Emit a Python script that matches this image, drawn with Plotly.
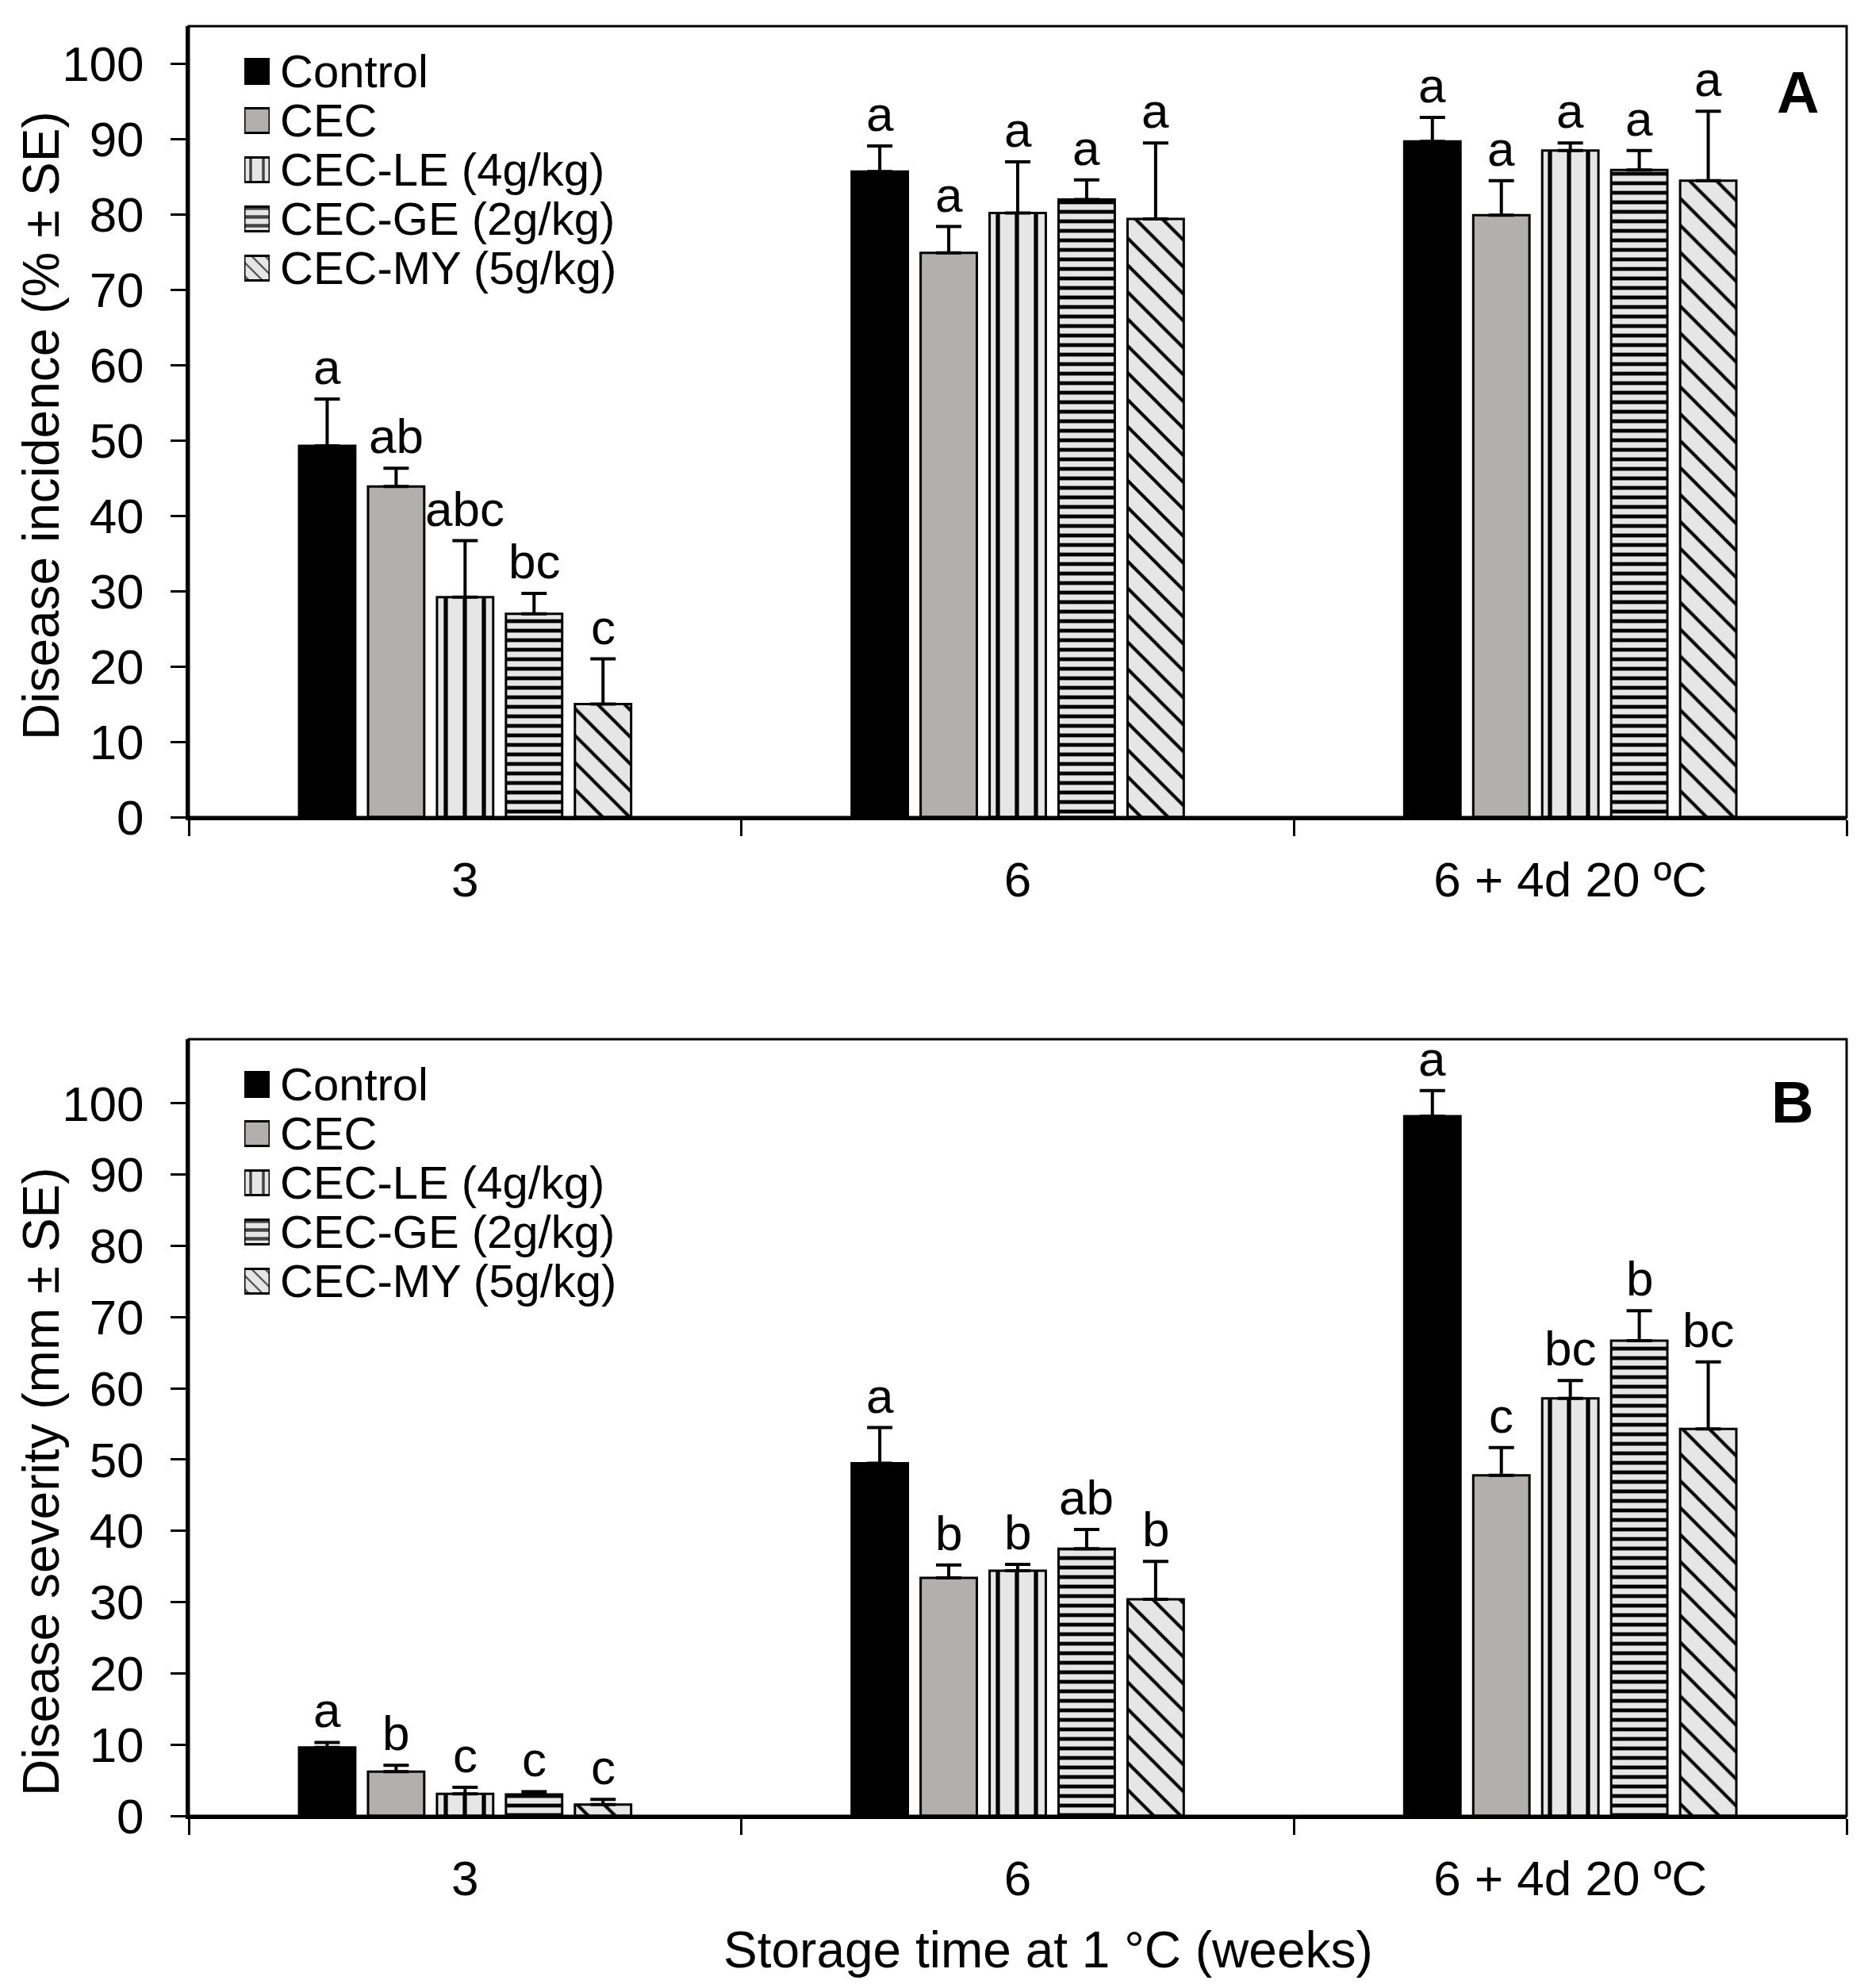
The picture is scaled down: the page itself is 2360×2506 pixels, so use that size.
import plotly.graph_objects as go

# ---- data ----
categories = ["3", "6", "6 + 4d 20 ºC"]
series = ["Control", "CEC", "CEC-LE (4g/kg)", "CEC-GE (2g/kg)", "CEC-MY (5g/kg)"]

# A: disease incidence (%) and SE
inc_control = [49.3, 85.7, 89.7]
inc_cec = [43.9, 74.9, 79.9]
inc_le = [29.2, 80.2, 88.5]
inc_ge = [27.0, 82.0, 85.9]
inc_my = [15.0, 79.4, 84.5]
inc_se_control = [6.2, 3.4, 3.2]
inc_se_cec = [2.4, 3.5, 4.6]
inc_se_le = [7.5, 6.8, 1.0]
inc_se_ge = [2.7, 2.6, 2.6]
inc_se_my = [6.0, 10.1, 9.2]

# B: disease severity (mm) and SE
sev_control = [9.6, 49.5, 98.2]
sev_cec = [6.2, 33.4, 47.8]
sev_le = [3.1, 34.4, 58.6]
sev_ge = [3.0, 37.5, 66.7]
sev_my = [1.6, 30.4, 54.3]
sev_se_control = [0.7, 5.0, 3.6]
sev_se_cec = [0.9, 1.8, 3.9]
sev_se_le = [0.9, 0.9, 2.5]
sev_se_ge = [0.4, 2.7, 4.2]
sev_se_my = [0.7, 5.3, 9.4]

# significance letters (per series, per category)
inc_letters = [
    ["a", "a", "a"],
    ["ab", "a", "a"],
    ["abc", "a", "a"],
    ["bc", "a", "a"],
    ["c", "a", "a"],
]
sev_letters = [
    ["a", "a", "a"],
    ["b", "b", "c"],
    ["c", "b", "bc"],
    ["c", "ab", "b"],
    ["c", "b", "bc"],
]

inc_values = [inc_control, inc_cec, inc_le, inc_ge, inc_my]
inc_errors = [inc_se_control, inc_se_cec, inc_se_le, inc_se_ge, inc_se_my]
sev_values = [sev_control, sev_cec, sev_le, sev_ge, sev_my]
sev_errors = [sev_se_control, sev_se_cec, sev_se_le, sev_se_ge, sev_se_my]

# ---- styles ----
FONT = "Liberation Sans, Arial, sans-serif"
fills = ["#000000", "#B3AFAE", "#E6E6E6", "#E6E6E6", "#E6E6E6"]
shapes_pat = ["", "", "|", "-", "\\"]
pat_size = [10, 10, 24, 12, 24]
pat_solid = [0.3, 0.3, 0.22, 0.4, 0.17]
BARGAP = 0.376

W, H = 2360, 2506
L, R, T, B = 238, 32, 33, 217
PW, PH = W - L - R, H - T - B


def px_x(px):
    return (px - L) / PW


def px_y(py):
    return (H - B - py) / PH


fig = go.Figure()


def add_panel(values, errors, xa, ya):
    for i, name in enumerate(series):
        fig.add_trace(go.Bar(
            x=categories, y=values[i], name=name,
            xaxis=xa, yaxis=ya, showlegend=False,
            marker=dict(
                color=fills[i],
                line=dict(color="black", width=3),
                pattern=dict(shape=shapes_pat[i], fgcolor="black",
                             fgopacity=1, size=pat_size[i],
                             solidity=pat_solid[i], fillmode="overlay"),
            ),
            error_y=dict(type="data", array=errors[i],
                         arrayminus=[0] * len(categories), symmetric=False,
                         color="black", thickness=4, width=16),
        ))


add_panel(inc_values, inc_errors, "x", "y")
add_panel(sev_values, sev_errors, "x2", "y2")

# legend swatches drawn as small bars on their own axes
for xa, ya in [("x3", "y3"), ("x4", "y4")]:
    fig.add_trace(go.Bar(
        y=series, x=[1] * len(series), orientation="h", width=0.5,
        xaxis=xa, yaxis=ya, showlegend=False, hoverinfo="skip",
        marker=dict(
            color=fills,
            line=dict(color="black", width=3),
            pattern=dict(shape=shapes_pat, fgcolor="black", fgopacity=1,
                         size=[10, 10, 16, 11, 12], solidity=pat_solid,
                         fillmode="overlay"),
        ),
    ))

# letters above error bars
slot = (1 - BARGAP) / len(series)
annotations = []
for values, errors, letters, xr, yr in [
    (inc_values, inc_errors, inc_letters, "x", "y"),
    (sev_values, sev_errors, sev_letters, "x2", "y2"),
]:
    for i in range(len(series)):
        for j in range(len(categories)):
            annotations.append(dict(
                x=j + (i - 2) * slot, y=values[i][j] + errors[i][j],
                xref=xr, yref=yr, text=letters[i][j], showarrow=False,
                xanchor="center", yanchor="bottom", yshift=4,
                font=dict(family=FONT, size=62, color="black"),
            ))


def paper_text(x, y, text, size, angle=0):
    return dict(x=px_x(x), y=px_y(y), xref="paper", yref="paper",
                xanchor="center", yanchor="middle", textangle=angle,
                text=text, showarrow=False,
                font=dict(family=FONT, size=size, color="black"))


# axis titles and panel letters
annotations += [
    paper_text(52, 537, "Disease incidence (% ± SE)", 64, -90),
    paper_text(52, 1868, "Disease severity (mm ± SE)", 64, -90),
    paper_text(1321, 2458, "Storage time at 1 °C (weeks)", 64),
    paper_text(2266, 116, "<b>A</b>", 74),
    paper_text(2259, 1389, "<b>B</b>", 74),
]

xcommon = dict(
    type="category", range=[-0.5, 2.5], showline=True, linewidth=4,
    linecolor="black", ticks="outside", ticklen=20, tickwidth=3,
    tickcolor="black", tickson="boundaries", showgrid=False, zeroline=False,
    tickfont=dict(family=FONT, size=62, color="black"), ticklabelstandoff=22,
)
ycommon = dict(
    dtick=10, showline=True, linewidth=4, linecolor="black", ticks="outside",
    ticklen=19, tickwidth=3, tickcolor="black", showgrid=False,
    zeroline=False, tickfont=dict(family=FONT, size=62, color="black"),
    ticklabelstandoff=21,
)
legx = dict(range=[0, 1], visible=False, fixedrange=True)
legy = dict(type="category", autorange="reversed", side="right",
            tickmode="array", tickvals=series, ticktext=series,
            showline=False, showgrid=False, zeroline=False, ticks="",
            ticklabelstandoff=12,
            tickfont=dict(family=FONT, size=58, color="black"))

box = dict(type="rect", x0=0, x1=1, y0=0, y1=1, line=dict(color="black", width=3),
           fillcolor="rgba(0,0,0,0)", layer="above")

fig.update_layout(
    width=W, height=H,
    margin=dict(l=L, r=R, t=T, b=B),
    paper_bgcolor="white", plot_bgcolor="white",
    barmode="group", bargap=BARGAP, bargroupgap=0.185,
    showlegend=False,
    xaxis=dict(domain=[0, 1], anchor="y", **xcommon),
    yaxis=dict(domain=[px_y(1030), 1], anchor="x", range=[0, 105], **ycommon),
    xaxis2=dict(domain=[0, 1], anchor="y2", **xcommon),
    yaxis2=dict(domain=[0, px_y(1310)], anchor="x2", range=[0, 109], **ycommon),
    xaxis3=dict(domain=[px_x(308), px_x(340)], anchor="y3", **legx),
    yaxis3=dict(domain=[px_y(369), px_y(59)], anchor="x3", **legy),
    xaxis4=dict(domain=[px_x(308), px_x(340)], anchor="y4", **legx),
    yaxis4=dict(domain=[px_y(1646), px_y(1336)], anchor="x4", **legy),
    annotations=annotations,
    shapes=[
        dict(xref="x domain", yref="y domain", **box),
        dict(xref="x2 domain", yref="y2 domain", **box),
    ],
)

fig.write_html("out.html", config={"displayModeBar": False},
               post_script="document.body.style.margin='0';")
